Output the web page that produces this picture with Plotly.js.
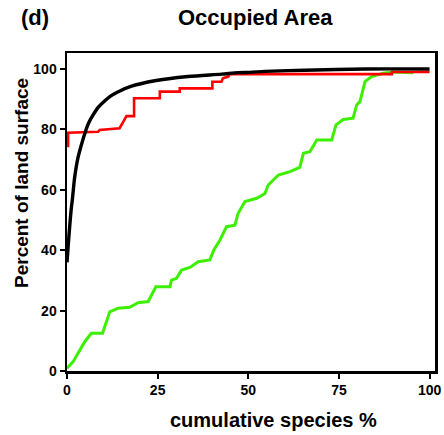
<!DOCTYPE html>
<html>
<head>
<meta charset="utf-8">
<script src="https://cdn.plot.ly/plotly-3.0.1.min.js"></script>
<style>html,body{margin:0;padding:0;background:#fff;}#chart{width:444px;height:435px;}</style>
</head>
<body>
<div id="chart"></div>
<script>
// Green series
const greenX = [0, 1.7, 3.2, 4.9, 6.7, 9.8, 11.8, 14.1, 17.3, 19.6, 22.4, 24.5, 28.4, 28.8, 30.2, 31.6, 33.9, 36.2, 39.4, 40.5, 42.2, 44.0, 46.3, 47.2, 49.1, 52.3, 54.6, 55.5, 58.3, 61.5, 64.2, 65.2, 67.0, 68.9, 73.0, 74.2, 76.2, 78.9, 79.9, 80.8, 82.2, 84.0, 87.2, 90.0, 95.5];
const greenY = [0.9, 3.1, 6.2, 9.7, 12.5, 12.5, 19.6, 20.8, 21.1, 22.6, 23.0, 27.9, 27.9, 30.1, 30.7, 33.4, 34.3, 36.2, 36.8, 40.1, 43.4, 47.8, 48.3, 52.2, 56.1, 57.2, 58.8, 61.6, 64.9, 66.0, 67.4, 72.1, 72.6, 76.5, 76.5, 81.5, 83.3, 83.7, 88.1, 89.2, 95.8, 97.5, 98.6, 99.0, 98.8];
// Red series
const redX = [0, 0.3, 0.3, 8.6, 9.0, 12.7, 14.5, 15.5, 16.4, 18.5, 18.5, 25.6, 25.6, 31.1, 31.1, 40.1, 40.1, 42.6, 43.0, 44.5, 44.9, 89.6, 89.6, 100];
const redY = [74.5, 74.5, 78.9, 79.2, 79.8, 80.1, 80.4, 82.5, 84.4, 84.4, 90.3, 90.3, 92.5, 92.5, 93.6, 93.6, 95.8, 95.8, 96.9, 97.5, 98.3, 98.3, 99.0, 99.0];
// Black series (smooth curve)
const blackX = [0, 0.3, 0.75, 1.2, 1.5, 2.1, 3.0, 4.0, 5.0, 6.0, 7.2, 8.6, 10, 12, 14, 17.8, 24.2, 33.4, 42.6, 47.2, 50.4, 54.6, 65.6, 82.2, 100];
const blackY = [36, 41, 48, 54, 57, 64, 70.5, 75, 79, 82.2, 84.8, 87.3, 89, 91, 92.4, 94.3, 96.1, 97.5, 98.3, 98.8, 98.9, 99.2, 99.6, 100.0, 100.0];
const xTicks = [0, 25, 50, 75, 100];
const yTicks = [0, 20, 40, 60, 80, 100];

const traces = [
  {x: greenX, y: greenY, type: 'scatter', mode: 'lines', line: {color: '#3cf000', width: 3}, hoverinfo: 'skip'},
  {x: redX, y: redY, type: 'scatter', mode: 'lines', line: {color: '#ff0000', width: 2.6}, hoverinfo: 'skip'},
  {x: blackX, y: blackY, type: 'scatter', mode: 'lines', line: {color: '#000000', width: 3.4, shape: 'spline', smoothing: 0.8}, hoverinfo: 'skip'}
];

const fontB = 'Liberation Sans, Arial, sans-serif';
const layout = {
  width: 444, height: 435,
  margin: {l: 67, r: 9, t: 53, b: 64},
  paper_bgcolor: '#fff', plot_bgcolor: '#fff',
  showlegend: false,
  font: {family: fontB, color: '#000'},
  xaxis: {
    range: [0, 101.5], tickvals: xTicks, ticktext: xTicks.map(String),
    showgrid: false, zeroline: false, showline: true, mirror: true, linecolor: '#000', linewidth: 2.5,
    ticks: 'outside', ticklen: 5, tickwidth: 2, tickcolor: '#000',
    tickfont: {family: fontB, size: 14, color: '#000', weight: 'bold'}
  },
  yaxis: {
    range: [0, 105.3], tickvals: yTicks, ticktext: yTicks.map(String),
    showgrid: false, zeroline: false, showline: true, mirror: true, linecolor: '#000', linewidth: 2.5,
    ticks: 'outside', ticklen: 5, tickwidth: 2, tickcolor: '#000',
    tickfont: {family: fontB, size: 14, color: '#000', weight: 'bold'}
  },
  annotations: [
    {text: '<b>Occupied Area</b>', xref: 'paper', yref: 'paper', x: (255-67)/318*318/368, y: 1 + 35/318, showarrow: false, font: {family: fontB, size: 22, color: '#000'}, xanchor: 'center', yanchor: 'middle'},
    {text: '<b>(d)</b>', xref: 'paper', yref: 'paper', x: (35-67)/368, y: 1 + 35/318, showarrow: false, font: {family: fontB, size: 22, color: '#000'}, xanchor: 'center', yanchor: 'middle'},
    {text: '<b>cumulative species %</b>', xref: 'paper', yref: 'paper', x: (273-67)/368, y: -(420-371)/318, showarrow: false, font: {family: fontB, size: 20, color: '#000'}, xanchor: 'center', yanchor: 'middle'},
    {text: '<b>Percent of land surface</b>', xref: 'paper', yref: 'paper', x: (21-67)/368, y: (371-183)/318, textangle: -90, showarrow: false, font: {family: fontB, size: 19, color: '#000'}, xanchor: 'center', yanchor: 'middle'}
  ]
};
Plotly.newPlot('chart', traces, layout, {displayModeBar: false, staticPlot: true});
</script>
</body>
</html>
